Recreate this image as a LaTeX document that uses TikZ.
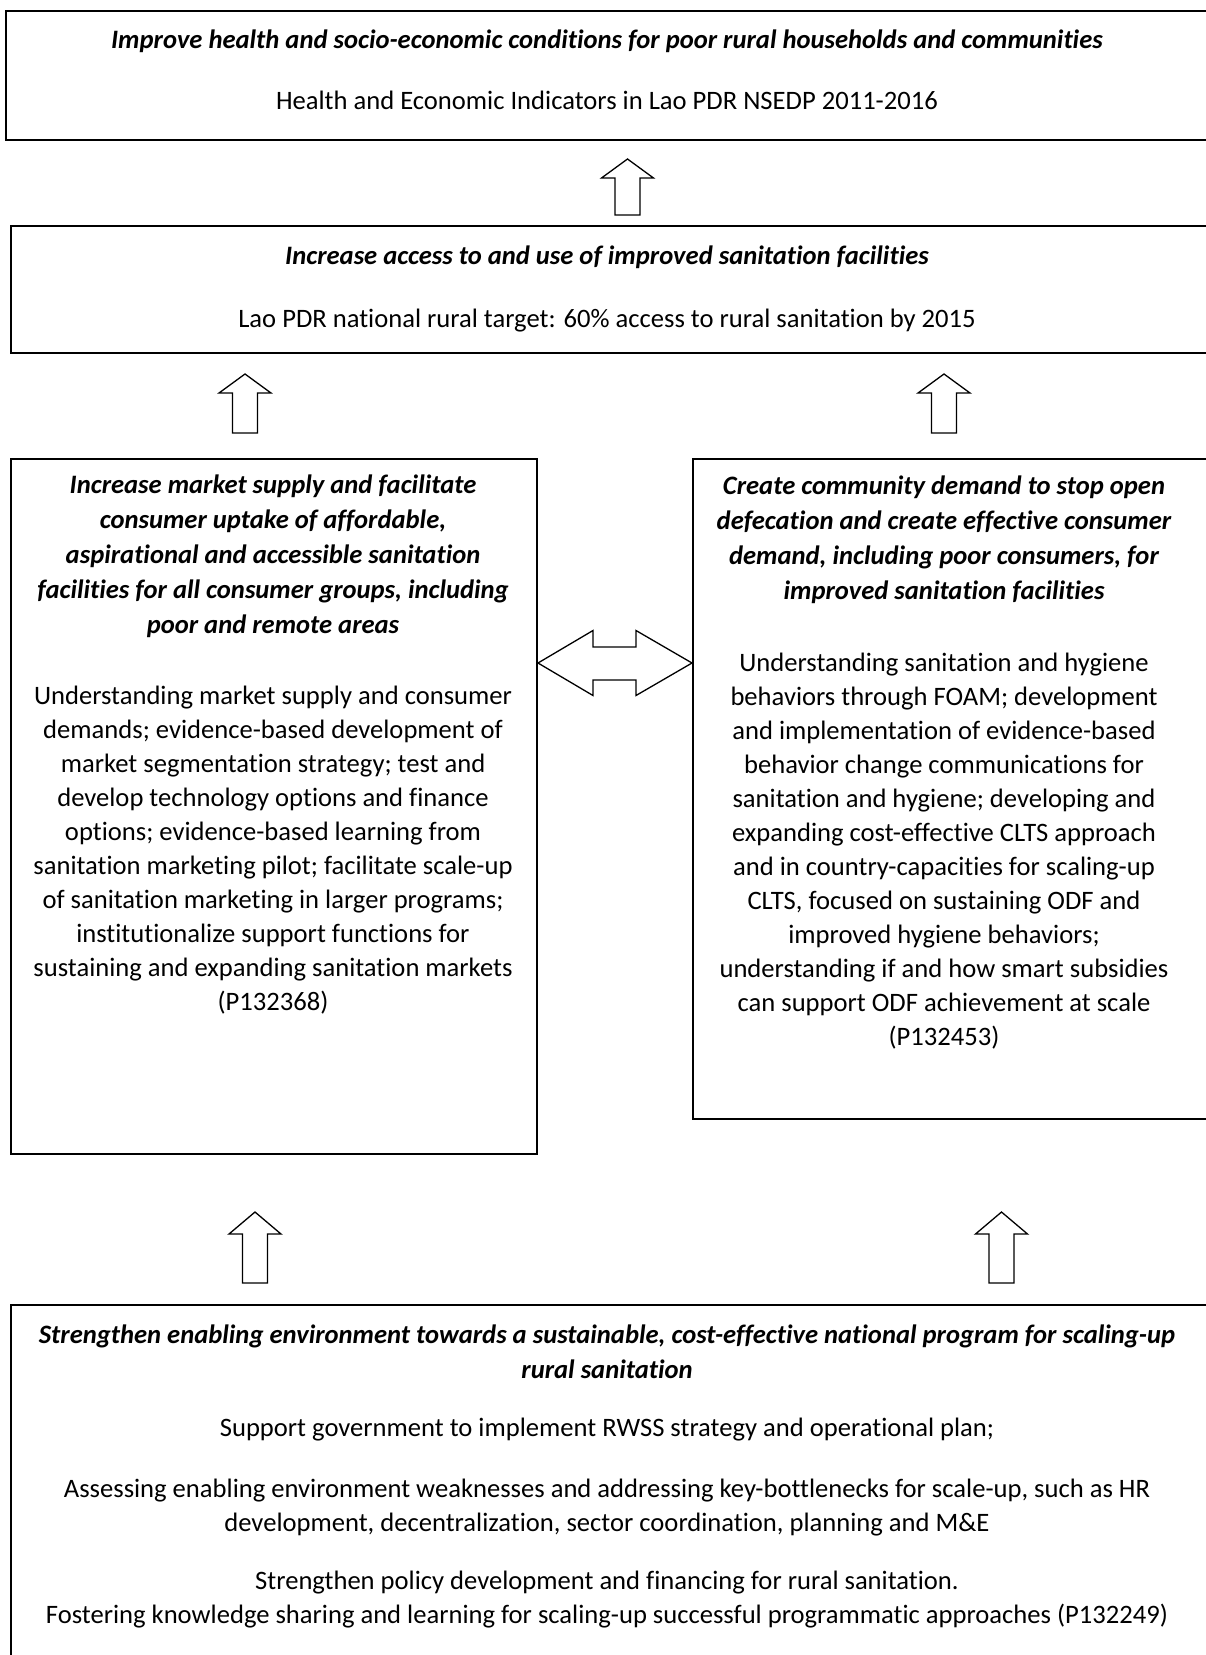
\documentclass[tikz,border=0pt]{standalone}
\usepackage{fontspec}
\setmainfont{Carlito}[Ligatures={NoCommon,NoContextual}]
\begin{document}
\begin{tikzpicture}[x=1pt,y=-1pt,
  box/.style={draw, line width=2pt, inner sep=0pt, anchor=north west},
  arr/.style={draw, line width=1.3pt, line join=miter, fill=white},
  hdr/.style={font=\fontsize{26.6}{35}\selectfont\bfseries\itshape, align=center, anchor=north, inner sep=0pt},
  txt/.style={font=\fontsize{26.6}{34}\selectfont, align=center, anchor=north, inner sep=0pt},
  pics/uparr/.style n args={2}{code={\draw[arr] (-12.5,0) -- (-12.5,-#2) -- (-26,-#2) -- (0,-#1) -- (26,-#2) -- (12.5,-#2) -- (12.5,0) -- cycle;}}]
\useasboundingbox (0,0) rectangle (1206,1655);
\clip (0,0) rectangle (1206,1655);
% boxes
\node[box, minimum width=1210pt, minimum height=129pt] (goal) at (4.7,10) {};
\node[box, minimum width=1205pt, minimum height=127pt] (outcome) at (10,225) {};
\node[box, minimum width=526pt, minimum height=695pt] (supply) at (10,458) {};
\node[box, minimum width=520pt, minimum height=660pt] (demand) at (692,458) {};
\node[box, minimum width=1205pt, minimum height=360pt] (enabl) at (10,1304) {};
% texts
\node[hdr] (goalT) at (607,23.5) {\strut Improve health and socio-economic conditions for poor rural households and communities};
\node[txt] (goalS) at (607,85) {\strut Health and Economic Indicators in Lao PDR NSEDP 2011-2016};
\node[hdr] (outT) at (607,239.5) {\strut Increase access to and use of improved sanitation facilities};
\node[txt] (outS) at (607,303.2) {\strut Lao PDR national rural target: 60\% access to rural sanitation by 2015};
\node[hdr] (supT) at (273,468.5) {\strut Increase market supply and facilitate\\consumer uptake of affordable,\\aspirational and accessible sanitation\\facilities for all consumer groups, including\\poor and remote areas};
\node[txt] (supS) at (273,680.2) {\strut Understanding market supply and consumer\\demands; evidence-based development of\\market segmentation strategy; test and\\develop technology options and finance\\options; evidence-based learning from\\sanitation marketing pilot; facilitate scale-up\\of sanitation marketing in larger programs;\\institutionalize support functions for\\sustaining and expanding sanitation markets\\(P132368)};
\node[hdr] (demT) at (944,469.5) {\strut Create community demand to stop open\\defecation and create effective consumer\\demand, including poor consumers, for\\improved sanitation facilities};
\node[txt] (demS) at (944,647.2) {\strut Understanding sanitation and hygiene\\behaviors through FOAM; development\\and implementation of evidence-based\\behavior change communications for\\sanitation and hygiene; developing and\\expanding cost-effective CLTS approach\\and in country-capacities for scaling-up\\CLTS, focused on sustaining ODF and\\improved hygiene behaviors;\\understanding if and how smart subsidies\\can support ODF achievement at scale\\(P132453)};
\node[hdr] (enT) at (607,1318.5) {\strut Strengthen enabling environment towards a sustainable, cost-effective national program for scaling-up\\rural sanitation};
\node[txt] (enS1) at (607,1412.2) {\strut Support government to implement RWSS strategy and operational plan;};
\node[txt] (enS2) at (607,1473.2) {\strut Assessing enabling environment weaknesses and addressing key-bottlenecks for scale-up, such as HR\\development, decentralization, sector coordination, planning and M\&E};
\node[txt] (enS3) at (607,1565.2) {\strut Strengthen policy development and financing for rural sanitation.\\Fostering knowledge sharing and learning for scaling-up successful programmatic approaches (P132249)};
% block arrows
\pic at (627.5,215) {uparr={56}{37}};
\pic at (245,433) {uparr={59}{40}};
\pic at (944,433) {uparr={59}{40}};
\pic at (255,1283) {uparr={71}{49}};
\pic at (1001.5,1283) {uparr={71}{49}};
\draw[arr] (supply.east |- 0,663) -- (593,630.5) -- (593,647) -- (636,647) -- (636,630.5) -- (demand.west |- 0,663) -- (636,695.5) -- (636,680) -- (593,680) -- (593,695.5) -- cycle;
\end{tikzpicture}
\end{document}
